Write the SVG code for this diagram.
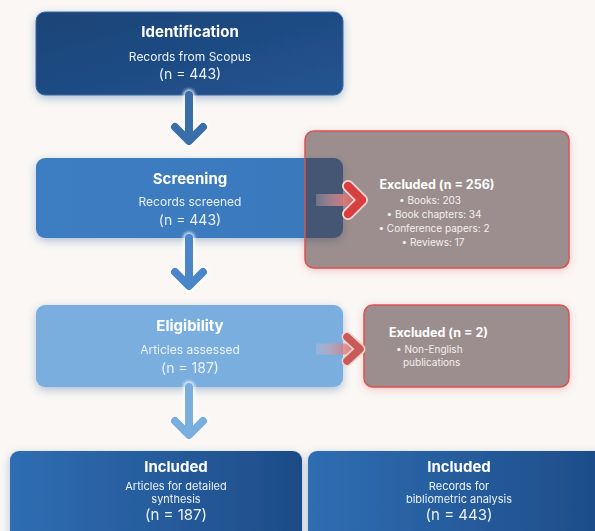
<svg xmlns="http://www.w3.org/2000/svg" width="595" height="531" viewBox="0 0 595 531">
<defs>
<linearGradient id="gId" x1="0" y1="0" x2="1" y2="1"><stop offset="0" stop-color="#1a4377"/><stop offset="1" stop-color="#235490"/></linearGradient>
<linearGradient id="gScr" x1="0" y1="0" x2="1" y2="0"><stop offset="0" stop-color="#3d7dc2"/><stop offset="1" stop-color="#3a78bc"/></linearGradient>
<linearGradient id="gInc" x1="0" y1="0" x2="1" y2="0"><stop offset="0" stop-color="#2f6db2"/><stop offset="1" stop-color="#1d4c88"/></linearGradient>
<linearGradient id="gRed" x1="0" y1="0" x2="1" y2="0"><stop offset="0" stop-color="#f2c8c8" stop-opacity="0.25"/><stop offset="0.6" stop-color="#e08080" stop-opacity="0.8"/><stop offset="1" stop-color="#d84848"/></linearGradient>
<filter id="shB" x="-20%" y="-30%" width="140%" height="160%"><feDropShadow dx="0" dy="3" stdDeviation="4" flood-color="#2a5a9a" flood-opacity="0.35"/></filter>
<filter id="shR" x="-20%" y="-30%" width="140%" height="160%"><feDropShadow dx="0" dy="2" stdDeviation="4" flood-color="#e05050" flood-opacity="0.35"/></filter>
<filter id="blur1" x="-50%" y="-50%" width="200%" height="200%"><feGaussianBlur stdDeviation="1.5"/></filter>
</defs>
<style>
text{font-family:Inter,"Noto Sans","Liberation Sans",sans-serif;fill:#ffffff;text-anchor:middle}
.t{font-weight:700;font-size:15px}
.s{font-size:12px}
.s2{font-size:11px}
.n{font-size:14px}
.n2{font-size:15px}
.et{font-weight:700;font-size:12.5px}
.eb{font-size:10px;fill:#f4eeee}
.ex{fill:#4e3838;fill-opacity:0.55;stroke:#d9534f;stroke-width:1.5}
.dim{fill:#eaf2fb}
</style>
<rect width="595" height="531" fill="#faf7f5"/>

<g id="excluded1-shadow">
<rect x="305" y="131" width="264" height="137" rx="9" fill="#faf7f5" filter="url(#shR)"/>
</g>
<g id="excluded2-shadow">
<rect x="364" y="305" width="205" height="82" rx="9" fill="#faf7f5" filter="url(#shR)"/>
</g>

<g id="identification" filter="url(#shB)">
<rect x="36" y="12" width="307" height="83" rx="9" fill="url(#gId)" stroke="#3a6aa8" stroke-width="1"/>
<text class="t" x="190" y="37">Identification</text>
<text class="s dim" x="190" y="61">Records from Scopus</text>
<text class="n dim" x="190" y="79">(n = 443)</text>
</g>

<g id="screening" filter="url(#shB)">
<rect x="36" y="158" width="307" height="80" rx="9" fill="url(#gScr)"/>
<text class="t" x="190" y="184">Screening</text>
<text class="s dim" x="190" y="206">Records screened</text>
<text class="n dim" x="190" y="225">(n = 443)</text>
</g>

<g id="eligibility" filter="url(#shB)">
<rect x="36" y="305" width="307" height="82" rx="9" fill="#79aedf"/>
<text class="t" x="190" y="331">Eligibility</text>
<text class="s dim" x="190" y="354">Articles assessed</text>
<text class="n dim" x="190" y="373">(n = 187)</text>
</g>

<g id="excluded1">
<rect class="ex" x="305" y="131" width="264" height="137" rx="9"/>
<text class="et" x="437" y="189">Excluded (n = 256)</text>
<text class="eb" x="430" y="204">• Books: 203</text>
<text class="eb" x="434" y="218">• Book chapters: 34</text>
<text class="eb" x="434" y="232">• Conference papers: 2</text>
<text class="eb" x="433" y="246">• Reviews: 17</text>
</g>

<g id="excluded2">
<rect class="ex" x="364" y="305" width="205" height="82" rx="9"/>
<text class="et" x="389" y="337" style="text-anchor:start">Excluded (n = 2)</text>
<text class="eb" x="396" y="353" style="text-anchor:start">• Non-English</text>
<text class="eb" x="403" y="366" style="text-anchor:start">publications</text>
</g>

<g id="included-left" filter="url(#shB)">
<rect x="10" y="451" width="292" height="92" rx="9" fill="url(#gInc)"/>
<text class="t" x="176" y="472">Included</text>
<text class="s2 dim" x="176" y="490">Articles for detailed</text>
<text class="s2 dim" x="176" y="503">synthesis</text>
<text class="n2 dim" x="176" y="520">(n = 187)</text>
</g>

<g id="included-right" filter="url(#shB)">
<rect x="308" y="451" width="300" height="92" rx="9" fill="url(#gInc)"/>
<text class="t" x="459" y="472">Included</text>
<text class="s2 dim" x="459" y="490">Records for</text>
<text class="s2 dim" x="459" y="503">bibliometric analysis</text>
<text class="n2 dim" x="459" y="520">(n = 443)</text>
</g>

<g id="connectors" fill="none" stroke-linecap="round" stroke-linejoin="round">
<g>
<path d="M189 95 V139 M175 127 L189 141 L203 127" stroke="#ffffff" stroke-width="12" opacity="0.8" filter="url(#blur1)"/>
<path d="M189 95 V139 M175 127 L189 141 L203 127" stroke="#3a6ea8" stroke-width="8"/>
</g>
<g>
<path d="M189 238 V284 M175 272 L189 286 L203 272" stroke="#ffffff" stroke-width="12" opacity="0.8" filter="url(#blur1)"/>
<path d="M189 238 V284 M175 272 L189 286 L203 272" stroke="#4a86c8" stroke-width="8"/>
</g>
<g>
<path d="M189 387 V433 M175 421 L189 435 L203 421" stroke="#ffffff" stroke-width="12" opacity="0.8" filter="url(#blur1)"/>
<path d="M189 387 V433 M175 421 L189 435 L203 421" stroke="#7aaede" stroke-width="8"/>
</g>
<g>
<rect x="316" y="194" width="44" height="12" fill="url(#gRed)" stroke="none"/>
<path d="M348 186 L362 200 L348 214" stroke="#ffd6d6" stroke-width="12"/>
<path d="M348 186 L362 200 L348 214" stroke="#d84040" stroke-width="8.5"/>
</g>
<g>
<rect x="316" y="343.5" width="42" height="11" fill="url(#gRed)" stroke="none" opacity="0.85"/>
<path d="M347 337 L360 349 L347 361" stroke="#f3d0d0" stroke-width="11"/>
<path d="M347 337 L360 349 L347 361" stroke="#c85a58" stroke-width="7.5"/>
</g>
</g>
</svg>
